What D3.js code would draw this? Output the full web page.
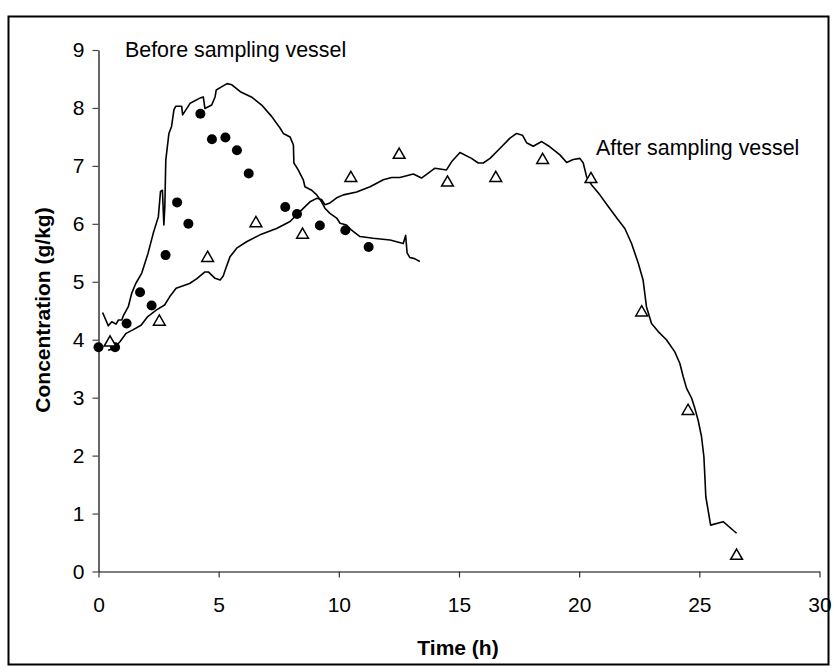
<!DOCTYPE html>
<html>
<head>
<meta charset="utf-8">
<script src="https://cdn.jsdelivr.net/npm/d3@7"></script>
<style>
  html, body { margin: 0; padding: 0; background: #fff; }
  svg { display: block; font-family: "Liberation Sans", Arial, sans-serif; }
</style>
</head>
<body>
<svg id="chart" width="834" height="672"></svg>
<script>
// Concentration measured before the sampling vessel (filled circles)
const beforePoints = [
  [0.00, 3.87], [0.69, 3.87], [1.17, 4.28], [1.73, 4.82], [2.21, 4.59],
  [2.79, 5.46], [3.27, 6.37], [3.74, 6.00], [4.24, 7.90], [4.72, 7.46],
  [5.28, 7.49], [5.76, 7.27], [6.25, 6.87], [7.77, 6.29], [8.26, 6.17],
  [9.21, 5.97], [10.27, 5.89], [11.24, 5.60]
];

// Concentration measured after the sampling vessel (open triangles)
const afterPoints = [
  [0.48, 3.95], [2.53, 4.31], [4.54, 5.41], [6.55, 6.01], [8.49, 5.81],
  [10.50, 6.79], [12.51, 7.19], [14.52, 6.71], [16.53, 6.79], [18.48, 7.10],
  [20.49, 6.77], [22.60, 4.47], [24.53, 2.77], [26.55, 0.27]
];

// Continuous on-line trace before the sampling vessel
const beforeTrace = [
  [0.17, 4.47], [0.41, 4.24], [0.55, 4.31], [0.73, 4.27], [0.83, 4.34],
  [0.97, 4.34], [1.03, 4.41], [1.24, 4.57], [1.38, 4.80], [1.55, 4.97],
  [1.80, 5.15], [2.06, 5.49], [2.28, 5.84], [2.49, 6.12], [2.58, 6.56],
  [2.66, 6.58], [2.72, 5.98], [2.76, 6.30], [2.80, 7.10], [2.93, 7.56],
  [3.04, 7.68], [3.14, 7.97], [3.22, 8.03], [3.46, 8.03], [3.50, 7.88],
  [3.81, 8.08], [4.22, 8.17], [4.36, 8.19], [4.43, 7.99], [4.71, 8.05],
  [4.85, 8.19], [4.90, 8.31], [5.10, 8.36], [5.35, 8.42], [5.55, 8.40],
  [5.90, 8.28], [6.36, 8.19], [6.79, 8.05], [7.21, 7.85], [7.56, 7.65],
  [7.69, 7.56], [7.97, 7.50], [8.11, 7.36], [8.13, 7.05], [8.31, 6.93],
  [8.52, 6.76], [8.59, 6.64], [8.87, 6.58], [9.08, 6.50], [9.28, 6.38],
  [9.42, 6.27], [9.63, 6.18], [9.91, 6.10], [10.05, 6.01], [10.32, 5.98],
  [10.53, 5.89], [10.88, 5.78], [11.43, 5.75], [12.13, 5.72], [12.68, 5.66],
  [12.78, 5.80], [12.84, 5.50], [12.95, 5.42], [13.15, 5.40], [13.37, 5.35]
];

// Continuous on-line trace after the sampling vessel
const afterTrace = [
  [0.40, 3.82], [0.64, 3.85], [0.90, 3.97], [1.15, 4.11], [1.43, 4.17],
  [1.77, 4.25], [2.05, 4.40], [2.40, 4.51], [2.75, 4.60], [2.96, 4.74],
  [3.23, 4.89], [3.79, 4.97], [4.08, 5.05], [4.43, 5.17], [4.57, 5.17],
  [4.85, 5.06], [5.06, 5.03], [5.19, 5.10], [5.27, 5.20], [5.47, 5.43],
  [5.75, 5.58], [6.16, 5.69], [6.72, 5.81], [7.41, 5.92], [7.97, 6.04],
  [8.38, 6.21], [8.80, 6.38], [9.08, 6.44], [9.28, 6.42], [9.42, 6.33],
  [9.63, 6.36], [9.91, 6.45], [10.19, 6.50], [10.74, 6.55], [11.30, 6.64],
  [11.85, 6.76], [12.20, 6.80], [12.54, 6.80], [13.10, 6.86], [13.44, 6.79],
  [14.00, 6.96], [14.48, 6.93], [14.69, 7.07], [15.04, 7.23], [15.52, 7.13],
  [15.80, 7.05], [16.01, 7.05], [16.29, 7.13], [16.70, 7.30], [17.12, 7.48],
  [17.40, 7.56], [17.64, 7.53], [17.81, 7.40], [18.09, 7.34], [18.44, 7.42],
  [18.78, 7.33], [19.20, 7.19], [19.48, 7.06], [19.75, 7.11], [20.03, 7.13],
  [20.17, 7.05], [20.31, 6.81], [20.52, 6.67], [20.86, 6.50], [21.21, 6.30],
  [21.62, 6.07], [21.90, 5.92], [22.18, 5.66], [22.46, 5.32], [22.66, 5.03],
  [22.80, 4.57], [23.01, 4.28], [23.29, 4.14], [23.63, 4.00], [23.98, 3.79],
  [24.19, 3.59], [24.33, 3.36], [24.47, 3.16], [24.68, 2.99], [24.81, 2.82],
  [24.95, 2.61], [25.09, 2.33], [25.19, 1.98], [25.23, 1.64], [25.27, 1.29],
  [25.47, 0.80], [25.99, 0.86], [26.55, 0.66]
];

const xTicks = [0, 5, 10, 15, 20, 25, 30];
const yTicks = [0, 1, 2, 3, 4, 5, 6, 7, 8, 9];

const svg = d3.select("#chart");

// outer chart frame
svg.append("rect")
  .attr("x", 8.5).attr("y", 16.5)
  .attr("width", 820).attr("height", 648)
  .attr("fill", "#fff")
  .attr("stroke", "#000")
  .attr("stroke-width", 2);

const x = d3.scaleLinear().domain([0, 30]).range([98.5, 819.5]);
const y = d3.scaleLinear().domain([0, 9]).range([571.5, 50]);

// x axis
const xAxis = svg.append("g")
  .attr("transform", `translate(0,${y(0)})`)
  .call(d3.axisBottom(x).tickValues(xTicks).tickSize(6).tickPadding(20).tickSizeOuter(0));
xAxis.select(".domain").attr("stroke", "#555").attr("stroke-width", 1.5);
xAxis.selectAll(".tick line").attr("stroke", "#333").attr("stroke-width", 1.2);
xAxis.selectAll(".tick text")
  .attr("font-size", 21).attr("fill", "#000")
  .attr("font-family", "Liberation Sans, Arial, sans-serif");

// y axis
const yAxis = svg.append("g")
  .attr("transform", `translate(${x(0)},0)`)
  .call(d3.axisLeft(y).tickValues(yTicks).tickSize(6).tickPadding(8).tickSizeOuter(0));
yAxis.select(".domain").attr("stroke", "#000").attr("stroke-width", 1.2);
yAxis.selectAll(".tick line").attr("stroke", "#444").attr("stroke-width", 1.2);
yAxis.selectAll(".tick text")
  .attr("font-size", 21).attr("fill", "#000")
  .attr("font-family", "Liberation Sans, Arial, sans-serif");

// axis titles
svg.append("text")
  .attr("x", 458).attr("y", 655)
  .attr("text-anchor", "middle")
  .attr("font-weight", "bold").attr("font-size", 21)
  .text("Time (h)");

svg.append("text")
  .attr("transform", "translate(50,310) rotate(-90)")
  .attr("text-anchor", "middle")
  .attr("font-weight", "bold").attr("font-size", 21)
  .text("Concentration (g/kg)");

// traces
const line = d3.line().x(d => x(d[0])).y(d => y(d[1]));
svg.append("path").datum(beforeTrace)
  .attr("d", line).attr("fill", "none")
  .attr("stroke", "#000").attr("stroke-width", 1.6)
  .attr("stroke-linejoin", "round");
svg.append("path").datum(afterTrace)
  .attr("d", line).attr("fill", "none")
  .attr("stroke", "#000").attr("stroke-width", 1.6)
  .attr("stroke-linejoin", "round");

// filled circle markers
svg.append("g").selectAll("circle").data(beforePoints).join("circle")
  .attr("cx", d => x(d[0])).attr("cy", d => y(d[1]))
  .attr("r", 5).attr("fill", "#000");

// open triangle markers
const tri = d3.symbol().type(d3.symbolTriangle).size(60);
svg.append("g").selectAll("path").data(afterPoints).join("path")
  .attr("transform", d => `translate(${x(d[0])},${y(d[1])})`)
  .attr("d", tri)
  .attr("fill", "#fff").attr("stroke", "#000").attr("stroke-width", 1.5);

// series annotations
svg.append("text")
  .attr("x", 125).attr("y", 57)
  .attr("font-size", 21.4)
  .text("Before sampling vessel");
svg.append("text")
  .attr("x", 596).attr("y", 155)
  .attr("font-size", 21.4)
  .text("After sampling vessel");
</script>
</body>
</html>
